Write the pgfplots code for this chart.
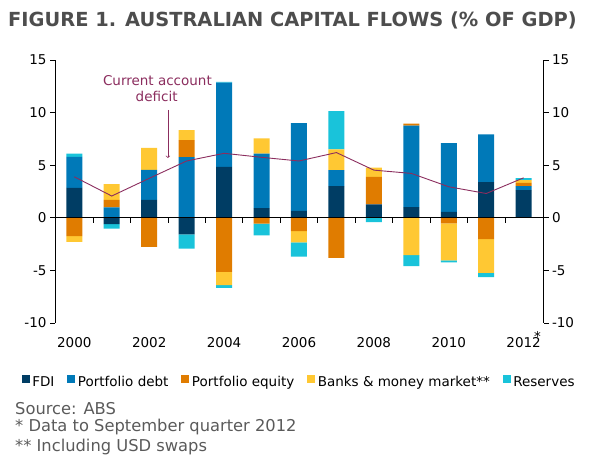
\documentclass[border=0pt]{standalone}
\usepackage{fontspec}
\setmainfont{DejaVu Sans}
\usepackage{pgfplots}
\usepackage{pgfplotstable}
\pgfplotsset{compat=1.18}

\definecolor{cfdi}{HTML}{003D64}
\definecolor{cpd}{HTML}{0079B8}
\definecolor{cpe}{HTML}{E07C00}
\definecolor{cbk}{HTML}{FFC833}
\definecolor{crs}{HTML}{19C3DA}
\definecolor{ccad}{HTML}{8B2D5E}
\definecolor{ctitle}{HTML}{4D4D4D}
\definecolor{cfoot}{HTML}{5A5A5A}

\pgfplotstableread{
year fdi pd pe bk rs
2000 2.85 2.95 0 0 0.30
2001 0 1.00 0.70 1.50 0
2002 1.71 2.84 0 2.10 0
2003 0 5.77 1.61 0.95 0
2004 4.85 8.00 0 0 0.07
2005 0.93 5.17 0 1.45 0
2006 0.65 8.35 0 0 0
2007 3.02 1.52 0 1.97 3.64
2008 1.27 0 2.63 0.88 0
2009 1.01 7.74 0.20 0 0
2010 0.57 6.53 0 0 0
2011 3.40 4.52 0 0 0
2012 2.63 0.37 0.33 0.25 0.19
}\postab

\pgfplotstableread{
year fdi pd pe bk rs
2000 0 0 -1.75 -0.55 0
2001 -0.60 0 0 0 -0.43
2002 0 0 -2.77 0 0
2003 -1.57 0 0 0 -1.36
2004 0 0 -5.13 -1.27 -0.25
2005 0 0 -0.56 0 -1.11
2006 0 0 -1.26 -1.07 -1.37
2007 0 0 -3.80 0 0
2008 0 0 0 0 -0.40
2009 0 0 0 -3.55 -1.05
2010 0 0 -0.53 -3.52 -0.19
2011 0 0 -2.03 -3.20 -0.41
2012 0 0 0 0 0
}\negtab

\pgfplotstableread{
year cad
2000 3.90
2001 2.07
2002 3.75
2003 5.40
2004 6.13
2005 5.75
2006 5.40
2007 6.20
2008 4.53
2009 4.22
2010 2.95
2011 2.31
2012 3.80
}\cadtab

\pgfplotsset{
  base/.style={
    scale only axis, width=488.5bp, height=263bp,
    at={(55bp,145bp)}, anchor=south west,
    xmin=1999.485, xmax=2012.53, ymin=-10, ymax=15,
    bar width=16bp,
    ytick={-10,-5,0,5,10,15},
    tick label style={font=\fontsize{13.5bp}{16bp}\selectfont, black},
    /pgf/number format/assume math mode=true,
    tick align=outside, major tick length=5bp,
    axis line style={line width=0.8bp, black},
    tick style={line width=0.8bp, black},
  },
}

\begin{document}
\begin{tikzpicture}
\path[use as bounding box] (0,0) rectangle (606bp,468bp);

% negative parts, right axis and year labels
\begin{axis}[base, ybar stacked,
  axis y line*=right, axis x line*=bottom,
  x axis line style={draw=none},
  xtick={2000,2002,2004,2006,2008,2010,2012},
  xticklabels={2000,2002,2004,2006,2008,2010,{2012\llap{\raisebox{0.45em}[0pt][0pt]{*}}}},
  xtick style={draw=none},
  xticklabel style={yshift=-6bp},
]
\addplot[fill=cfdi, draw=none] table[x=year,y=fdi]{\negtab};
\addplot[fill=cpd, draw=none] table[x=year,y=pd]{\negtab};
\addplot[fill=cpe, draw=none] table[x=year,y=pe]{\negtab};
\addplot[fill=cbk, draw=none] table[x=year,y=bk]{\negtab};
\addplot[fill=crs, draw=none] table[x=year,y=rs]{\negtab};
\end{axis}

% positive parts and legend
\begin{axis}[base, ybar stacked, hide axis,
  legend style={at={(-0.068,-0.2222)}, anchor=west, draw=none, fill=none,
    inner sep=0pt, outer sep=0pt,
    font=\fontsize{13.5bp}{16bp}\selectfont,
    nodes={inner sep=0pt},
    /tikz/every odd column/.append style={column sep=2.5bp},
    /tikz/every even column/.append style={column sep=13bp}},
  legend columns=-1,
  legend image code/.code={\fill[#1] (0bp,-1bp) rectangle (8bp,7bp);},
]
\addplot[fill=cfdi, draw=none] table[x=year,y=fdi]{\postab};
\addplot[fill=cpd, draw=none] table[x=year,y=pd]{\postab};
\addplot[fill=cpe, draw=none] table[x=year,y=pe]{\postab};
\addplot[fill=cbk, draw=none] table[x=year,y=bk]{\postab};
\addplot[fill=crs, draw=none] table[x=year,y=rs]{\postab};
\legend{FDI, Portfolio debt, Portfolio equity, Banks \& money market**, Reserves}
\end{axis}

% line, left axis, zero line
\begin{axis}[base, axis on top,
  axis y line*=left, axis x line*=middle,
  xtick={2000.5,2001.5,2002.5,2003.5,2004.5,2005.5,2006.5,2007.5,2008.5,2009.5,2010.5,2011.5},
  xticklabel={\empty},
  xmajorticks=true,
  major tick length=5bp,
  xtick style={black, line width=0.8bp},
]
\addplot[ccad, line width=0.9bp, no markers] table[x=year,y=cad]{\cadtab};
\draw[->, ccad, line width=0.7bp] (axis cs:2002.5,10.25) -- (axis cs:2002.5,5.68);
\node[anchor=base, text=ccad, inner sep=0pt, font=\fontsize{13.5bp}{16bp}\selectfont] at (axis cs:2002.22,12.56) {Current account};
\node[anchor=base, text=ccad, inner sep=0pt, font=\fontsize{13.5bp}{16bp}\selectfont] at (axis cs:2002.2,11.10) {deficit};
\end{axis}

\node[anchor=base west, inner sep=0pt, text=ctitle, font=\bfseries\fontsize{19.4bp}{22bp}\selectfont] at (8bp,441.3bp) {FIGURE 1. AUSTRALIAN CAPITAL FLOWS (\% OF GDP)};
\node[anchor=base west, inner sep=0pt, text=cfoot, font=\fontsize{16.3bp}{19bp}\selectfont] at (15bp,53.7bp) {Source: ABS};
\node[anchor=base west, inner sep=0pt, text=cfoot, font=\fontsize{16.3bp}{19bp}\selectfont] at (15bp,36.3bp) {* Data to September quarter 2012};
\node[anchor=base west, inner sep=0pt, text=cfoot, font=\fontsize{16.3bp}{19bp}\selectfont] at (15bp,16.3bp) {** Including USD swaps};
\end{tikzpicture}
\end{document}
